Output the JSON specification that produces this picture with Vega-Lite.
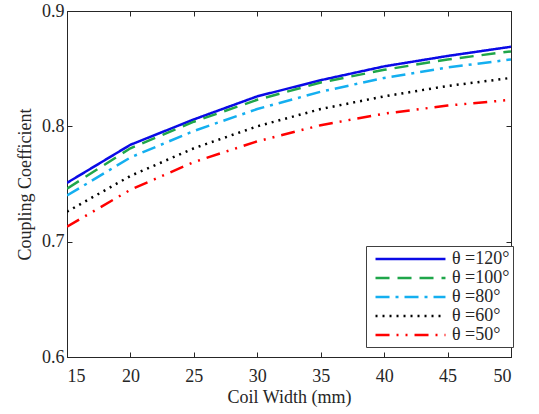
{
  "$schema": "https://vega.github.io/schema/vega-lite/v6.json",
  "width": 444,
  "height": 346,
  "autosize": {"type": "none"},
  "padding": {"left": 67, "top": 11, "right": 28, "bottom": 57},
  "background": "white",
  "config": {
    "font": "Liberation Serif",
    "view": {"stroke": "#262626", "strokeWidth": 1},
    "axis": {
      "domainColor": "#262626",
      "tickColor": "#262626",
      "tickSize": -5,
      "labelFont": "Liberation Serif",
      "labelFontSize": 18,
      "labelColor": "#262626",
      "titleFont": "Liberation Serif",
      "titleFontSize": 18,
      "titleFontWeight": "normal",
      "titleColor": "#262626",
      "grid": false
    }
  },
  "data": {
    "values": [
      {"w": 15, "k": 0.751, "s": "θ =120°"},
      {"w": 20, "k": 0.784, "s": "θ =120°"},
      {"w": 25, "k": 0.806, "s": "θ =120°"},
      {"w": 30, "k": 0.826, "s": "θ =120°"},
      {"w": 35, "k": 0.840, "s": "θ =120°"},
      {"w": 40, "k": 0.852, "s": "θ =120°"},
      {"w": 45, "k": 0.861, "s": "θ =120°"},
      {"w": 50, "k": 0.869, "s": "θ =120°"},
      {"w": 15, "k": 0.746, "s": "θ =100°"},
      {"w": 20, "k": 0.781, "s": "θ =100°"},
      {"w": 25, "k": 0.804, "s": "θ =100°"},
      {"w": 30, "k": 0.823, "s": "θ =100°"},
      {"w": 35, "k": 0.838, "s": "θ =100°"},
      {"w": 40, "k": 0.849, "s": "θ =100°"},
      {"w": 45, "k": 0.858, "s": "θ =100°"},
      {"w": 50, "k": 0.865, "s": "θ =100°"},
      {"w": 15, "k": 0.740, "s": "θ =80°"},
      {"w": 20, "k": 0.773, "s": "θ =80°"},
      {"w": 25, "k": 0.796, "s": "θ =80°"},
      {"w": 30, "k": 0.815, "s": "θ =80°"},
      {"w": 35, "k": 0.830, "s": "θ =80°"},
      {"w": 40, "k": 0.842, "s": "θ =80°"},
      {"w": 45, "k": 0.851, "s": "θ =80°"},
      {"w": 50, "k": 0.858, "s": "θ =80°"},
      {"w": 15, "k": 0.726, "s": "θ =60°"},
      {"w": 20, "k": 0.757, "s": "θ =60°"},
      {"w": 25, "k": 0.781, "s": "θ =60°"},
      {"w": 30, "k": 0.800, "s": "θ =60°"},
      {"w": 35, "k": 0.815, "s": "θ =60°"},
      {"w": 40, "k": 0.826, "s": "θ =60°"},
      {"w": 45, "k": 0.835, "s": "θ =60°"},
      {"w": 50, "k": 0.842, "s": "θ =60°"},
      {"w": 15, "k": 0.713, "s": "θ =50°"},
      {"w": 20, "k": 0.745, "s": "θ =50°"},
      {"w": 25, "k": 0.769, "s": "θ =50°"},
      {"w": 30, "k": 0.787, "s": "θ =50°"},
      {"w": 35, "k": 0.801, "s": "θ =50°"},
      {"w": 40, "k": 0.811, "s": "θ =50°"},
      {"w": 45, "k": 0.818, "s": "θ =50°"},
      {"w": 50, "k": 0.823, "s": "θ =50°"}
    ]
  },
  "layer": [
    {
      "mark": {"type": "line", "strokeWidth": 2.5, "clip": true},
      "encoding": {
        "x": {
          "field": "w", "type": "quantitative",
          "scale": {"domain": [15, 50], "nice": false},
          "axis": {"title": "Coil Width (mm)", "values": [15, 20, 25, 30, 35, 40, 45, 50], "labelPadding": 15, "labelDx": 4, "titlePadding": 3}
        },
        "y": {
          "field": "k", "type": "quantitative",
          "scale": {"domain": [0.6, 0.9], "nice": false, "zero": false},
          "axis": {"title": "Coupling Coefficient", "values": [0.6, 0.7, 0.8, 0.9], "format": ".1f", "labelPadding": 8, "labelDy": 2, "titlePadding": 7}
        },
        "color": {
          "field": "s", "type": "nominal",
          "scale": {
            "domain": ["θ =120°", "θ =100°", "θ =80°", "θ =60°", "θ =50°"],
            "range": ["#0a0ae6", "#1fa64a", "#14aff0", "#000000", "#ff0000"]
          },
          "legend": {
            "title": null,
            "orient": "none",
            "legendX": 299,
            "legendY": 235,
            "symbolType": "M-0.41,0H7.82",
            "symbolSize": 289,
            "symbolStrokeWidth": 2.5,
            "labelFont": "Liberation Serif",
            "labelFontSize": 18,
            "labelColor": "#262626",
            "rowPadding": 0,
            "padding": 3,
            "strokeColor": "#404040",
            "fillColor": "white",
            "labelOffset": 63
          }
        },
        "strokeDash": {
          "field": "s", "type": "nominal",
          "scale": {
            "domain": ["θ =120°", "θ =100°", "θ =80°", "θ =60°", "θ =50°"],
            "range": [[1, 0], [14, 8], [14, 6, 3, 6], [2, 5], [14, 7, 2, 7, 2, 7]]
          },
          "legend": null
        }
      }
    },
    {
      "mark": {"type": "rule", "opacity": 0},
      "encoding": {
        "x": {"field": "w", "type": "quantitative", "axis": {"orient": "top", "labels": false, "title": null, "values": [15, 20, 25, 30, 35, 40, 45, 50]}},
        "y": {"field": "k", "type": "quantitative", "axis": {"orient": "right", "labels": false, "title": null, "values": [0.6, 0.7, 0.8, 0.9]}}
      }
    }
  ],
  "resolve": {"scale": {"x": "shared", "y": "shared"}, "axis": {"x": "independent", "y": "independent"}}
}
